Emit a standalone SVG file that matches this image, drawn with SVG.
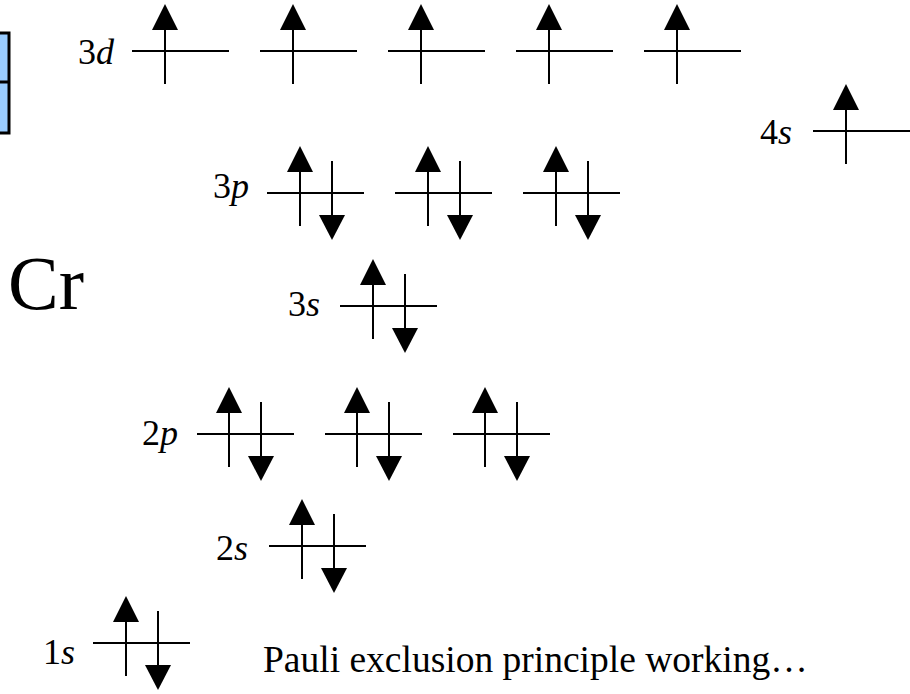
<svg xmlns="http://www.w3.org/2000/svg" xmlns:xlink="http://www.w3.org/1999/xlink" width="910" height="694" viewBox="0 0 910 694">
<style>
.lv{stroke:#000;stroke-width:2;fill:none}
.sh{stroke:#000;stroke-width:2}
.hd{fill:#000}
.lb{font-family:"Liberation Serif","Times New Roman",serif;font-size:36px;fill:#000}
.it{font-style:italic}
</style>
<defs>
<g id="up"><line class="sh" x1="0" y1="-22" x2="0" y2="33"/><polygon class="hd" points="-13,-21 13,-21 0,-47"/></g>
<g id="dn"><line class="sh" x1="0" y1="-32" x2="0" y2="23"/><polygon class="hd" points="-13,22 13,22 0,47"/></g>
</defs>
<rect id="box" x="-20" y="33" width="29" height="100" fill="#99ccff" stroke="#000" stroke-width="3"/>
<line x1="-20" y1="82" x2="9" y2="82" stroke="#000" stroke-width="3"/>
<text id="cr" x="8" y="309" font-family="'Liberation Serif','Times New Roman',serif" font-size="76">Cr</text>
<g id="connectors"></g>
<g id="o3d">
<text class="lb" x="78" y="64">3<tspan class="it">d</tspan></text>
<line class="lv" x1="132" y1="51" x2="229" y2="51"/><use href="#up" x="165" y="51"/>
<line class="lv" x1="260" y1="51" x2="357" y2="51"/><use href="#up" x="293" y="51"/>
<line class="lv" x1="388" y1="51" x2="485" y2="51"/><use href="#up" x="421" y="51"/>
<line class="lv" x1="516" y1="51" x2="613" y2="51"/><use href="#up" x="549" y="51"/>
<line class="lv" x1="644" y1="51" x2="741" y2="51"/><use href="#up" x="677" y="51"/>
</g>
<g id="o4s">
<text class="lb" x="760" y="144">4<tspan class="it">s</tspan></text>
<line class="lv" x1="813" y1="131" x2="910" y2="131"/><use href="#up" x="846" y="131"/>
</g>
<g id="o3p">
<text class="lb" x="213" y="198">3<tspan class="it">p</tspan></text>
<line class="lv" x1="267" y1="193" x2="364" y2="193"/><use href="#up" x="300" y="193"/><use href="#dn" x="332" y="193"/>
<line class="lv" x1="395" y1="193" x2="492" y2="193"/><use href="#up" x="428" y="193"/><use href="#dn" x="460" y="193"/>
<line class="lv" x1="523" y1="193" x2="620" y2="193"/><use href="#up" x="556" y="193"/><use href="#dn" x="588" y="193"/>
</g>
<g id="o3s">
<text class="lb" x="288" y="316">3<tspan class="it">s</tspan></text>
<line class="lv" x1="340" y1="306" x2="437" y2="306"/><use href="#up" x="373" y="306"/><use href="#dn" x="405" y="306"/>
</g>
<g id="o2p">
<text class="lb" x="142" y="445">2<tspan class="it">p</tspan></text>
<line class="lv" x1="197" y1="434" x2="294" y2="434"/><use href="#up" x="229" y="434"/><use href="#dn" x="261" y="434"/>
<line class="lv" x1="325" y1="434" x2="422" y2="434"/><use href="#up" x="357" y="434"/><use href="#dn" x="389" y="434"/>
<line class="lv" x1="453" y1="434" x2="550" y2="434"/><use href="#up" x="485" y="434"/><use href="#dn" x="517" y="434"/>
</g>
<g id="o2s">
<text class="lb" x="216" y="560">2<tspan class="it">s</tspan></text>
<line class="lv" x1="269" y1="546" x2="366" y2="546"/><use href="#up" x="302" y="546"/><use href="#dn" x="334" y="546"/>
</g>
<g id="o1s">
<text class="lb" x="43" y="664">1<tspan class="it">s</tspan></text>
<line class="lv" x1="93" y1="643" x2="190" y2="643"/><use href="#up" x="126" y="643"/><use href="#dn" x="158" y="643"/>
</g>
<text id="pauli" class="lb" x="263" y="672" style="font-size:37.5px">Pauli exclusion principle working…</text>
</svg>
